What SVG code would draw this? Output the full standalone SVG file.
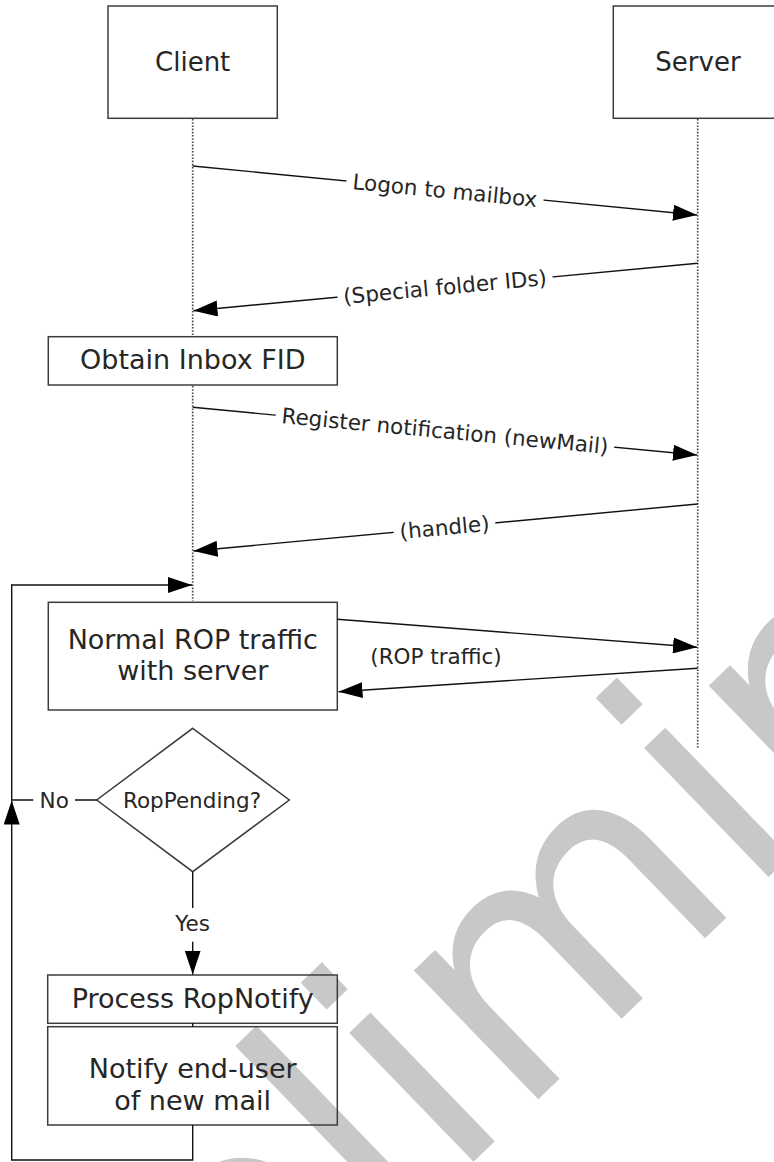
<svg xmlns="http://www.w3.org/2000/svg" width="774" height="1162" viewBox="0 0 774 1162">
  <style>
    .box { fill: none; stroke: #3c3c3c; stroke-width: 1.5; }
    .t26 { font-family: "DejaVu Sans", Verdana, sans-serif; font-size: 27px; fill: #262626; text-anchor: middle; }
    .hd { font-size: 26px; }
    .t21 { font-family: "DejaVu Sans", Verdana, sans-serif; font-size: 21.5px; fill: #262626; text-anchor: middle; }
    .life { fill: none; stroke: #4a4a4a; stroke-width: 1.7; stroke-dasharray: 1.6 1.6; }
    .con { fill: none; stroke: #111; stroke-width: 1.4; }
    .bg { fill: #fff; stroke: none; }
    .wm { font-family: "DejaVu Sans", sans-serif; font-size: 327.5px; fill: #c8c8c8; }
  </style>
  <defs>
    <marker id="ah" viewBox="0 0 24 16" markerWidth="24" markerHeight="16" refX="24" refY="8" orient="auto" markerUnits="userSpaceOnUse">
      <path d="M0,0 L24,8 L0,16 z" fill="#000"/>
    </marker>
  </defs>
  <rect width="774" height="1162" fill="#fff"/>

  <!-- watermark -->
  <text class="wm" transform="translate(11.4,1608.1) rotate(-44)" x="0" y="0">Preliminary</text>

  <!-- lifelines -->
  <g id="lifelines">
    <line class="life" x1="192.7" y1="119" x2="192.7" y2="336"/>
    <line class="life" x1="192.7" y1="386" x2="192.7" y2="601"/>
    <line class="life" x1="697.7" y1="119" x2="697.7" y2="748"/>
  </g>

  <g id="client">
    <rect class="box" x="108" y="6" width="169.3" height="112.3"/>
    <text class="t26 hd" x="192.7" y="71">Client</text>
  </g>
  <g id="server">
    <rect class="box" x="613.3" y="6" width="169" height="112.3"/>
    <text class="t26 hd" x="698" y="71">Server</text>
  </g>
  <g id="obtain">
    <rect class="box" x="48.3" y="336.7" width="289" height="48.3"/>
    <text class="t26" x="192.8" y="368.8">Obtain Inbox FID</text>
  </g>
  <g id="normal">
    <rect class="box" x="48.3" y="602.3" width="289" height="107.7"/>
    <text class="t26" x="192.8" y="648.5">Normal ROP traffic</text>
    <text class="t26" x="192.8" y="680.3">with server</text>
  </g>
  <g id="decision">
    <polygon class="box" points="192.7,728.3 289.3,800 192.7,871.7 96.7,800"/>
    <text class="t21" x="192" y="807.5">RopPending?</text>
  </g>
  <g id="process">
    <rect class="box" x="47.7" y="975" width="289.6" height="48.3"/>
    <text class="t26" x="192.7" y="1007.8">Process RopNotify</text>
  </g>
  <g id="notify">
    <rect class="box" x="47.7" y="1026.7" width="289.6" height="98.3"/>
    <text class="t26" x="192.7" y="1077.8">Notify end-user</text>
    <text class="t26" x="192.7" y="1110.3">of new mail</text>
  </g>

  <g id="connectors">
    <line class="con" x1="192.7" y1="166" x2="697" y2="215" marker-end="url(#ah)"/>
    <line class="con" x1="697.7" y1="263.3" x2="193.5" y2="310.7" marker-end="url(#ah)"/>
    <line class="con" x1="192.7" y1="407.3" x2="697" y2="455" marker-end="url(#ah)"/>
    <line class="con" x1="697.7" y1="504" x2="193.5" y2="551" marker-end="url(#ah)"/>
    <line class="con" x1="337.3" y1="619.3" x2="697" y2="647.3" marker-end="url(#ah)"/>
    <line class="con" x1="697.7" y1="668.3" x2="338.5" y2="691.7" marker-end="url(#ah)"/>
    <line class="con" x1="192.7" y1="871.7" x2="192.7" y2="974.5" marker-end="url(#ah)"/>
    <line class="con" x1="192.7" y1="1023.3" x2="192.7" y2="1026.7"/>
    <polyline class="con" points="192.7,1125 192.7,1160 11.7,1160 11.7,800.5" marker-end="url(#ah)"/>
    <polyline class="con" points="96.7,800 11.7,800 11.7,585 192,585" marker-end="url(#ah)"/>

    <!-- labels -->
    <g transform="translate(445,190.5) rotate(5.55)">
      <rect class="bg" x="-99" y="-12" width="198" height="24"/>
      <text class="t21" x="0" y="7.5">Logon to mailbox</text>
    </g>
    <g transform="translate(445,287) rotate(-5.4)">
      <rect class="bg" x="-108" y="-12" width="216" height="24"/>
      <text class="t21" x="0" y="7.5">(Special folder IDs)</text>
    </g>
    <g transform="translate(445,431) rotate(5.43)">
      <rect class="bg" x="-170" y="-12" width="340" height="24"/>
      <text class="t21" x="0" y="7.5">Register notification (newMail)</text>
    </g>
    <g transform="translate(444.5,527.5) rotate(-5.3)">
      <rect class="bg" x="-51" y="-12" width="102" height="24"/>
      <text class="t21" x="0" y="7.5">(handle)</text>
    </g>
    <text class="t21" x="436" y="663.5">(ROP traffic)</text>
    <rect class="bg" x="172" y="908" width="41" height="33.7"/>
    <text class="t21" x="192.5" y="931">Yes</text>
    <rect class="bg" x="33.3" y="788" width="41.7" height="24"/>
    <text class="t21" x="54.2" y="807.5">No</text>
  </g>
</svg>
